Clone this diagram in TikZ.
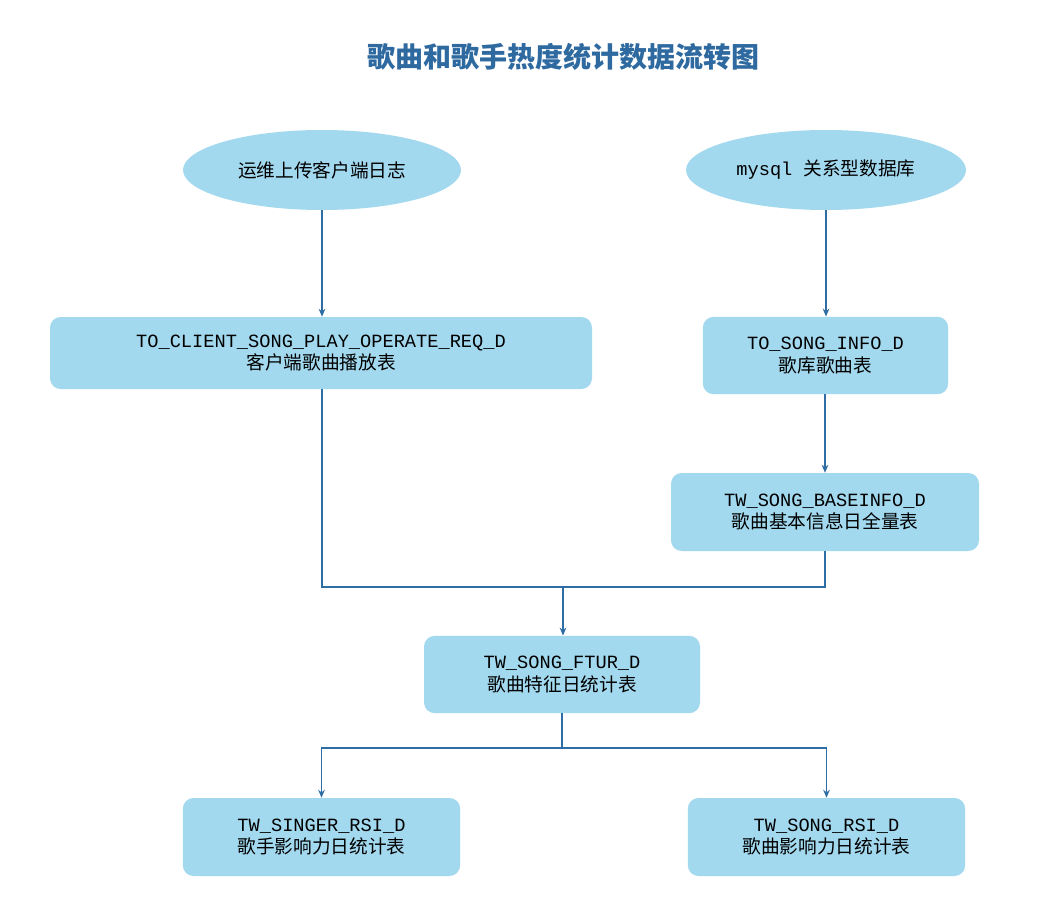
\documentclass[tikz,border=0pt]{standalone}
\usepackage{fontspec}
\setmainfont{Liberation Mono}
\newfontfamily\cjk{Noto Sans CJK SC}
\usetikzlibrary{shapes.geometric,arrows.meta}
\definecolor{fillb}{HTML}{A3D9EF}
\definecolor{lineb}{HTML}{2F6EA5}
\definecolor{titleb}{HTML}{2E6AA0}
\begin{document}
\begin{tikzpicture}[x=0.75pt,y=-0.75pt,
  box/.style={draw=none,fill=fillb,rounded corners=8pt,align=center,font=\fontsize{14}{17}\selectfont,inner sep=0pt},
  ell/.style={ellipse,draw=none,fill=fillb,inner sep=0pt,font=\fontsize{14}{17}\selectfont},
  ln/.style={draw=lineb,line width=0.9pt},
  ar/.style={ln,-{Stealth[length=6pt,width=5pt]}}]
\useasboundingbox[fill=white] (0,0) rectangle (1048,918);
\node[font=\cjk\bfseries\fontsize{21}{24}\selectfont,text=titleb] (title) at (563,57) {歌曲和歌手热度统计数据流转图};
\node[ell,minimum width=208.5pt,minimum height=60pt] (e1) at (322,170) {\cjk 运维上传客户端日志};
\node[ell,minimum width=210pt,minimum height=60pt] (e2) at (826,170) {mysql {\cjk 关系型数据库}};
\node[box,minimum width=406.5pt,minimum height=54pt] (b1) at (321,353) {TO\_CLIENT\_SONG\_PLAY\_OPERATE\_REQ\_D\\{\cjk 客户端歌曲播放表}};
\node[box,minimum width=184pt,minimum height=58pt] (b2) at (825.5,355.5) {TO\_SONG\_INFO\_D\\{\cjk 歌库歌曲表}};
\node[box,minimum width=231pt,minimum height=58.5pt] (b3) at (825,512) {TW\_SONG\_BASEINFO\_D\\{\cjk 歌曲基本信息日全量表}};
\node[box,minimum width=207pt,minimum height=58pt] (b4) at (562,674.5) {TW\_SONG\_FTUR\_D\\{\cjk 歌曲特征日统计表}};
\node[box,minimum width=208pt,minimum height=58.5pt] (b5) at (321.5,837) {TW\_SINGER\_RSI\_D\\{\cjk 歌手影响力日统计表}};
\node[box,minimum width=208pt,minimum height=58.5pt] (b6) at (826.5,837) {TW\_SONG\_RSI\_D\\{\cjk 歌曲影响力日统计表}};
\coordinate (j1) at (563,587);
\coordinate (j2) at (562,748);
\draw[ar] (e1.south) -- (e1.south |- b1.north);
\draw[ar] (e2.south) -- (e2.south |- b2.north);
\draw[ar] (b2.south -| b3.north) -- (b3.north);
\draw[ln] (b1.south -| e1.south) |- (j1);
\draw[ln] (b3.south) |- (j1);
\draw[ar] (j1) -- (j1 |- b4.north);
\draw[ln] (b4.south -| j2) -- (j2);
\draw[ar] (j2) -| (b5.north);
\draw[ar] (j2) -| (b6.north);
\end{tikzpicture}
\end{document}
